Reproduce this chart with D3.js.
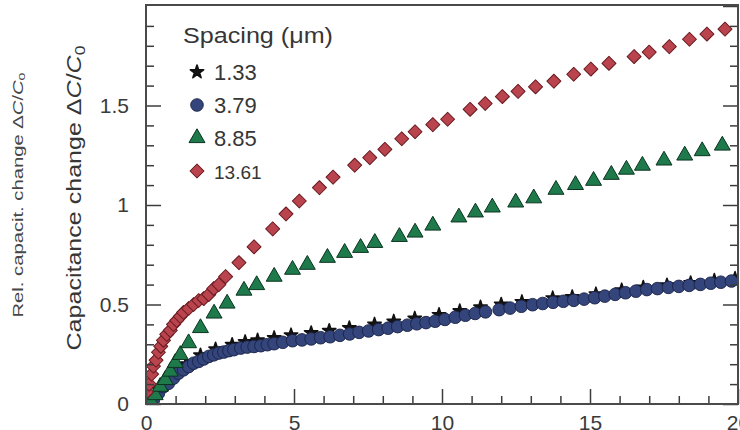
<!DOCTYPE html>
<html>
<head>
<meta charset="utf-8">
<script src="https://cdn.jsdelivr.net/npm/d3@7"></script>
<style>
  body { margin: 0; background: #fff; }
  svg { display: block; font-family: "Liberation Sans", Arial, sans-serif; }
</style>
</head>
<body>
<svg id="chart" width="740" height="430"></svg>
<script>
// tick values / labels
const xTicks = [0, 5, 10, 15, 20];
const yTicks = [0, 0.5, 1, 1.5];
const yTickLabels = ["0", "0.5", "1", "1.5"];

// legend
const spacings = ["1.33", "3.79", "8.85", "13.61"];

// 1.33 um (black)
const s133X = [0.15, 0.45, 0.75, 1.05, 1.35, 1.84, 2.35, 2.91, 3.35, 3.77, 4.33, 4.90, 5.58, 6.19, 6.87, 7.72, 8.37, 9.08, 9.90, 10.6, 11.3, 12.0, 12.7, 13.74, 14.4, 15.2, 16.07, 16.8, 17.6, 18.4, 19.2, 19.9];
const s133Y = [0.02, 0.07, 0.12, 0.165, 0.2, 0.245, 0.275, 0.298, 0.312, 0.32, 0.332, 0.346, 0.357, 0.368, 0.382, 0.40, 0.415, 0.43, 0.448, 0.467, 0.486, 0.5, 0.513, 0.532, 0.538, 0.552, 0.572, 0.585, 0.597, 0.608, 0.62, 0.63];

// 3.79 um (blue)
const s379X = [0.08, 0.25, 0.42, 0.59, 0.76, 0.93, 1.10, 1.27, 1.44, 1.61, 1.78, 1.95, 2.12, 2.29, 2.46, 2.63, 2.80, 2.97, 3.20, 3.42, 3.65, 3.88, 4.10, 4.33, 4.62, 4.95, 5.27, 5.58, 5.90, 6.22, 6.55, 6.88, 7.20, 7.52, 7.86, 8.18, 8.50, 8.83, 9.15, 9.46, 9.77, 10.10, 10.45, 10.79, 11.12, 11.47, 11.93, 12.30, 12.68, 13.06, 13.40, 13.75, 14.10, 14.45, 14.80, 15.16, 15.50, 15.85, 16.20, 16.55, 16.92, 17.28, 17.65, 18.00, 18.35, 18.73, 19.08, 19.42, 19.78];
const s379Y = [0.005, 0.02, 0.054, 0.087, 0.104, 0.13, 0.155, 0.172, 0.188, 0.205, 0.214, 0.226, 0.239, 0.247, 0.256, 0.261, 0.268, 0.273, 0.281, 0.286, 0.289, 0.293, 0.298, 0.303, 0.31, 0.318, 0.322, 0.327, 0.333, 0.338, 0.345, 0.352, 0.36, 0.367, 0.374, 0.381, 0.389, 0.396, 0.403, 0.409, 0.416, 0.425, 0.436, 0.446, 0.455, 0.463, 0.474, 0.482, 0.491, 0.499, 0.505, 0.511, 0.516, 0.521, 0.527, 0.534, 0.542, 0.551, 0.559, 0.567, 0.575, 0.58, 0.586, 0.591, 0.596, 0.601, 0.607, 0.612, 0.618];

// 8.85 um (green)
const s885X = [0.15, 0.31, 0.48, 0.65, 0.82, 0.99, 1.16, 1.44, 1.84, 2.3, 2.74, 3.31, 3.74, 4.33, 4.95, 5.45, 6.13, 6.71, 7.25, 7.73, 8.56, 9.09, 9.69, 10.57, 11.13, 11.70, 12.49, 13.10, 13.85, 14.51, 15.12, 15.72, 16.23, 16.77, 17.50, 18.20, 18.79, 19.47];
const s885Y = [0.02, 0.045, 0.087, 0.121, 0.163, 0.207, 0.247, 0.306, 0.382, 0.455, 0.505, 0.57, 0.598, 0.64, 0.675, 0.70, 0.735, 0.76, 0.785, 0.81, 0.84, 0.862, 0.897, 0.938, 0.963, 0.988, 1.013, 1.034, 1.077, 1.101, 1.122, 1.152, 1.178, 1.198, 1.224, 1.249, 1.271, 1.299];

// 13.61 um (red)
const s1361X = [0.02, 0.11, 0.19, 0.25, 0.34, 0.42, 0.50, 0.59, 0.70, 0.82, 0.93, 1.04, 1.16, 1.27, 1.44, 1.61, 1.78, 1.95, 2.12, 2.29, 2.46, 2.69, 3.14, 3.65, 4.28, 4.73, 5.18, 5.86, 6.32, 7.05, 7.56, 8.07, 8.64, 9.09, 9.69, 10.19, 10.95, 11.46, 12.04, 12.57, 13.16, 13.78, 14.45, 15.03, 15.64, 16.49, 17.0, 17.68, 18.36, 18.95, 19.56];
const s1361Y = [0.06, 0.10, 0.15, 0.19, 0.22, 0.26, 0.29, 0.32, 0.35, 0.37, 0.40, 0.42, 0.44, 0.46, 0.48, 0.50, 0.52, 0.53, 0.55, 0.58, 0.60, 0.64, 0.71, 0.79, 0.88, 0.955, 1.02, 1.087, 1.14, 1.20, 1.238, 1.28, 1.333, 1.368, 1.404, 1.431, 1.481, 1.51, 1.545, 1.571, 1.594, 1.622, 1.657, 1.683, 1.712, 1.746, 1.768, 1.796, 1.833, 1.859, 1.884];

const svg = d3.select("#chart");

const plotBox = { left: 146, right: 738, top: 5, bottom: 404 };

const x = d3.scaleLinear().domain([0, 20]).range([plotBox.left, plotBox.right]);
const y = d3.scaleLinear().domain([0, 2]).range([plotBox.bottom, plotBox.top + 1]);

// series styles, drawn back to front
const series = [
  { xs: s133X, ys: s133Y, shape: d3.symbolStar, size: 55, fill: "#151515", stroke: "#111", sw: 1.6, rot: 0 },
  { xs: s379X, ys: s379Y, shape: d3.symbolCircle, size: 125, fill: "#34457c", stroke: "#1a2346", sw: 0.9, rot: 0 },
  { xs: s885X, ys: s885Y, shape: d3.symbolTriangle, size: 110, fill: "#1f7a4b", stroke: "#0b3420", sw: 1, rot: 0 },
  { xs: s1361X, ys: s1361Y, shape: d3.symbolSquare, size: 98, fill: "#b9444d", stroke: "#6a1b22", sw: 1, rot: 45 }
];

svg.append("defs").append("clipPath").attr("id", "plotclip")
  .append("rect")
  .attr("x", plotBox.left).attr("y", plotBox.top)
  .attr("width", plotBox.right - plotBox.left).attr("height", plotBox.bottom - plotBox.top);

const plot = svg.append("g").attr("clip-path", "url(#plotclip)");

series.forEach(s => {
  const pts = s.xs.map((v, i) => [v, s.ys[i]]);
  plot.append("g").selectAll("path")
    .data(pts)
    .enter()
    .append("path")
    .attr("d", d3.symbol().type(s.shape).size(s.size))
    .attr("transform", d => `translate(${x(d[0])},${y(d[1])}) rotate(${s.rot})`)
    .attr("fill", s.fill)
    .attr("stroke", s.stroke)
    .attr("stroke-width", s.sw)
    .attr("stroke-linejoin", "round");
});

// axes - ticks point inward
const axisColor = "#3c3c3c";
const minorX = d3.range(0, 21, 1).filter(v => v % 5 !== 0);
const minorY = d3.range(0, 21, 1).map(v => v / 10).filter(v => Math.round(v * 10) % 5 !== 0);

function styleAxis(g) {
  g.selectAll(".domain").remove();
  g.selectAll("line").attr("stroke", axisColor).attr("stroke-width", 1.5);
  g.selectAll("text").attr("fill", "#3a3a3a").attr("font-size", 21)
    .attr("font-family", "Liberation Sans, Arial, sans-serif");
}

svg.append("g")
  .attr("transform", `translate(0,${plotBox.bottom})`)
  .call(d3.axisBottom(x).tickValues(xTicks).tickSize(-15).tickPadding(10))
  .call(styleAxis)
  .selectAll("text").attr("dy", "0.95em").attr("y", 6);

svg.append("g")
  .attr("transform", `translate(0,${plotBox.bottom})`)
  .call(d3.axisBottom(x).tickValues(minorX).tickSize(-8).tickFormat(""))
  .call(styleAxis);

svg.append("g")
  .attr("transform", `translate(${plotBox.left},0)`)
  .call(d3.axisLeft(y).tickValues(yTicks).tickSize(-15).tickPadding(17)
    .tickFormat((d, i) => yTickLabels[i]))
  .call(styleAxis);

svg.append("g")
  .attr("transform", `translate(${plotBox.left},0)`)
  .call(d3.axisLeft(y).tickValues(minorY).tickSize(-8).tickFormat(""))
  .call(styleAxis);

svg.append("g")
  .attr("transform", `translate(${plotBox.right},0)`)
  .call(d3.axisRight(y).tickValues(yTicks.concat([2])).tickSize(-15).tickFormat(""))
  .call(styleAxis);

svg.append("g")
  .attr("transform", `translate(${plotBox.right},0)`)
  .call(d3.axisRight(y).tickValues(minorY).tickSize(-8).tickFormat(""))
  .call(styleAxis);

// frame
svg.append("rect")
  .attr("x", plotBox.left).attr("y", plotBox.top)
  .attr("width", plotBox.right - plotBox.left).attr("height", plotBox.bottom - plotBox.top)
  .attr("fill", "none")
  .attr("stroke", "#4a4a4a")
  .attr("stroke-width", 2);

// y axis labels (rotated)
function deltaLabel(sel) {
  sel.append("tspan").text("\u0394");
  sel.append("tspan").attr("font-style", "italic").text("C");
  sel.append("tspan").text("/");
  sel.append("tspan").attr("font-style", "italic").text("C");
  sel.append("tspan").attr("font-size", "70%").attr("dy", "0.25em").text("0");
}

const mainLabel = svg.append("text")
  .attr("transform", "translate(81,198) rotate(-90)")
  .attr("text-anchor", "middle")
  .attr("font-size", 20)
  .attr("fill", "#363636")
  .attr("textLength", 305)
  .attr("lengthAdjust", "spacingAndGlyphs");
mainLabel.append("tspan").text("Capacitance change ");
mainLabel.call(deltaLabel);

const relLabel = svg.append("text")
  .attr("transform", "translate(23,195) rotate(-90)")
  .attr("text-anchor", "middle")
  .attr("font-size", 14)
  .attr("fill", "#474747")
  .attr("textLength", 245)
  .attr("lengthAdjust", "spacingAndGlyphs");
relLabel.append("tspan").text("Rel. capacit. change ");
relLabel.call(deltaLabel);

// legend
const legend = svg.append("g");

legend.append("text")
  .attr("x", 183).attr("y", 43)
  .attr("font-size", 22)
  .attr("fill", "#363636")
  .attr("textLength", 150)
  .attr("lengthAdjust", "spacingAndGlyphs")
  .text("Spacing (\u03bcm)");

spacings.forEach((label, i) => {
  const s = series[i];
  const cy = 72 + i * 33;
  legend.append("path")
    .attr("d", d3.symbol().type(s.shape).size(s.size))
    .attr("transform", `translate(197,${cy}) rotate(${s.rot})`)
    .attr("fill", s.fill)
    .attr("stroke", s.stroke)
    .attr("stroke-width", s.sw)
    .attr("stroke-linejoin", "round");
  legend.append("text")
    .attr("x", 214).attr("y", cy + 8)
    .attr("font-size", i === 3 ? 19 : 22)
    .attr("fill", "#363636")
    .text(label);
});
</script>
</body>
</html>
